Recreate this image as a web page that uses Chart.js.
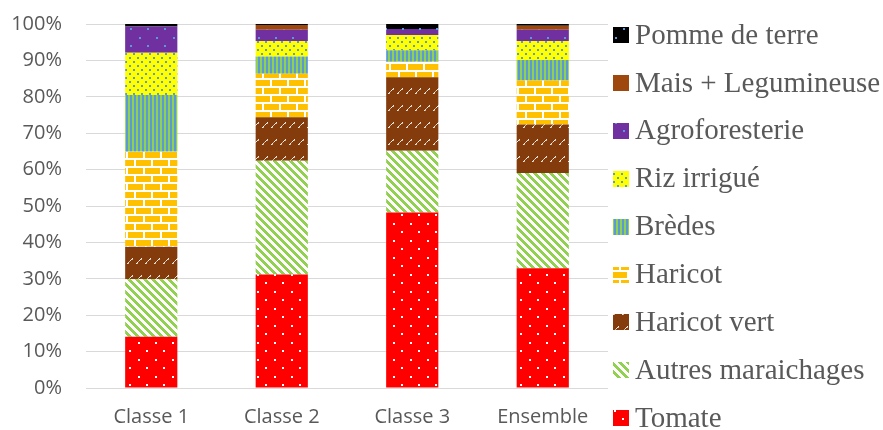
<!DOCTYPE html>
<html>
<head>
<meta charset="utf-8">
<script src="https://cdn.jsdelivr.net/npm/chart.js@4/dist/chart.umd.min.js"></script>
<style>
  html, body { margin: 0; padding: 0; background: #ffffff; }
  canvas { display: block; }
</style>
</head>
<body>
<canvas id="chart" width="883" height="430"></canvas>
<script>
// Categories and series (share of each crop, in %)
const classes = ['Classe 1', 'Classe 2', 'Classe 3', 'Ensemble'];
const tomate = [14.1, 31.2, 48.2, 32.9];
const autresMaraichages = [15.8, 31.2, 17.0, 26.2];
const haricotVert = [8.9, 12.0, 20.2, 13.3];
const haricot = [26.1, 11.9, 4.2, 12.1];
const bredes = [15.6, 4.8, 3.2, 5.6];
const rizIrrigue = [11.6, 4.2, 4.2, 5.2];
const agroforesterie = [7.2, 3.1, 1.6, 3.1];
const maisLegumineuse = [0, 1.3, 0, 1.1];
const pommeDeTerre = [0.7, 0.3, 1.4, 0.5];
const yTickValues = [0, 10, 20, 30, 40, 50, 60, 70, 80, 90, 100];

const canvas = document.getElementById('chart');
const ctx = canvas.getContext('2d');

// Small tiles used as repeating fill patterns
function makeTile(w, h, draw) {
  const c = document.createElement('canvas');
  c.width = w; c.height = h;
  const g = c.getContext('2d');
  draw(g);
  return ctx.createPattern(c, 'repeat');
}
const BLUE = '#5B9BD5';
const GREEN = '#92D050';

const pTomate = makeTile(17, 17, g => {
  g.fillStyle = '#FF0000'; g.fillRect(0, 0, 17, 17);
  g.fillStyle = '#FFFFFF'; g.fillRect(2, 2, 2, 2); g.fillRect(10, 10, 2, 2);
});
const pAutres = makeTile(8, 8, g => {
  g.fillStyle = '#FFFFFF'; g.fillRect(0, 0, 8, 8);
  g.fillStyle = GREEN;
  for (let y = 0; y < 8; y++) for (let k = 0; k < 4; k++) g.fillRect((y + k) % 8, y, 1, 1);
});
const pHaricotVert = makeTile(9, 17, g => {
  g.fillStyle = '#843C0C'; g.fillRect(0, 0, 9, 17);
  g.fillStyle = '#F7EDE4';
  [[1, 8], [2, 7], [4, 5], [5, 4], [6, 3]].forEach(([x, y]) => g.fillRect(x, y, 1, 1));
  g.fillStyle = '#D2B49E';
  [[3, 6], [2, 8], [6, 4]].forEach(([x, y]) => g.fillRect(x, y, 1, 1));
});
const pHaricot = makeTile(17, 16, g => {
  g.fillStyle = '#FFFFFF'; g.fillRect(0, 0, 17, 16);
  g.fillStyle = '#FFC000';
  g.fillRect(0, 0, 15, 6);
  g.fillRect(9, 8, 8, 6); g.fillRect(0, 8, 7, 6);
});
const pBredes = makeTile(4, 2, g => {
  g.fillStyle = GREEN; g.fillRect(0, 0, 2, 2);
  g.fillStyle = BLUE; g.fillRect(2, 0, 2, 2);
});
const pRiz = makeTile(8, 8, g => {
  g.fillStyle = '#FFFF00'; g.fillRect(0, 0, 8, 8);
  g.fillStyle = BLUE; g.fillRect(1, 1, 2, 2); g.fillRect(5, 5, 2, 2);
});
const pAgro = makeTile(17, 17, g => {
  g.fillStyle = '#7030A0'; g.fillRect(0, 0, 17, 17);
  g.fillStyle = BLUE; g.fillRect(3, 3, 2, 2); g.fillRect(11, 11, 2, 2);
});
const pMais = '#9E480E';
const pPomme = makeTile(17, 17, g => {
  g.fillStyle = '#000000'; g.fillRect(0, 0, 17, 17);
  g.fillStyle = BLUE; g.fillRect(3, 3, 2, 2); g.fillRect(11, 11, 2, 2);
});

const series = [
  ['Tomate', tomate, pTomate],
  ['Autres maraichages', autresMaraichages, pAutres],
  ['Haricot vert', haricotVert, pHaricotVert],
  ['Haricot', haricot, pHaricot],
  ['Brèdes', bredes, pBredes],
  ['Riz irrigué', rizIrrigue, pRiz],
  ['Agroforesterie', agroforesterie, pAgro],
  ['Mais + Legumineuse', maisLegumineuse, pMais],
  ['Pomme de terre', pommeDeTerre, pPomme]
];

// Legend drawn to the right of the plot, top entry = last series
const sideLegend = {
  id: 'sideLegend',
  afterDraw(chart) {
    const c = chart.ctx;
    const sets = chart.data.datasets.slice().reverse();
    c.save();
    c.font = '29px "Liberation Serif", "Times New Roman", serif';
    c.textBaseline = 'middle';
    c.textAlign = 'left';
    sets.forEach((ds, i) => {
      const yc = 35 + i * 47.9;
      c.fillStyle = ds.backgroundColor;
      c.fillRect(613, Math.round(yc - 8), 16, 16);
      c.fillStyle = '#595959';
      c.fillText(ds.label, 635, yc + 1);
    });
    c.restore();
  }
};

new Chart(ctx, {
  type: 'bar',
  data: {
    labels: classes,
    datasets: series.map(([label, data, fill]) => ({
      label, data,
      backgroundColor: fill,
      borderWidth: 0,
      categoryPercentage: 1.0,
      barPercentage: 0.4
    }))
  },
  options: {
    responsive: false,
    animation: false,
    devicePixelRatio: 1,
    layout: { padding: { top: 24, right: 275, left: 0, bottom: 0 } },
    plugins: { legend: { display: false }, tooltip: { enabled: false } },
    scales: {
      x: {
        stacked: true,
        grid: { display: false, drawTicks: false },
        border: { display: false },
        ticks: {
          color: '#595959',
          font: { family: '"Open Sans", sans-serif', size: 20 },
          padding: 17
        },
        afterFit(scale) { scale.height = 42; }
      },
      y: {
        stacked: true,
        min: 0, max: 100,
        afterBuildTicks(scale) { scale.ticks = yTickValues.map(v => ({ value: v })); },
        grid: { color: '#D9D9D9', lineWidth: 1, drawTicks: false },
        border: { display: false },
        ticks: {
          color: '#595959',
          font: { family: '"Open Sans", sans-serif', size: 20 },
          padding: 24,
          callback: v => v + '%'
        },
        afterFit(scale) {
          scale.width = 86;
          scale.paddingTop = 12;
          scale.paddingBottom = 12;
        }
      }
    }
  },
  plugins: [sideLegend]
});
</script>
</body>
</html>
